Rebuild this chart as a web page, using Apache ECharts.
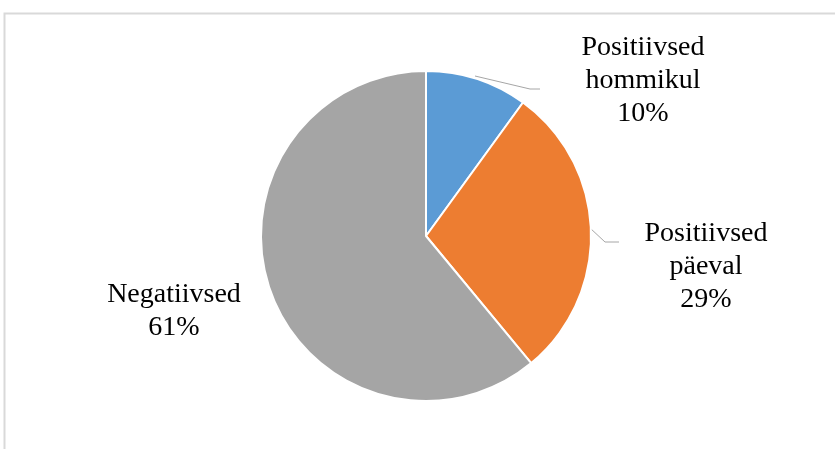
<!DOCTYPE html>
<html>
<head>
<meta charset="utf-8">
<script src="https://cdn.jsdelivr.net/npm/echarts@6/dist/echarts.min.js"></script>
<style>html,body{margin:0;padding:0;background:#fff;}#c{width:835px;height:449px;}</style>
</head>
<body>
<div id="c"></div>
<script>
const categories = ["Positiivsed\nhommikul", "Positiivsed\npäeval", "Negatiivsed"];
const values = [10, 29, 61];
const colors = ["#5b9bd5", "#ed7d31", "#a5a5a5"];

const labelPos = [
  {x: 643, y: 81, line: [[475, 76], [530, 89], [540, 89]]},
  {x: 706, y: 267, line: [[590, 228], [605, 242], [619, 242]]},
  {x: 174, y: 311, line: null}
];

const chart = echarts.init(document.getElementById('c'));
chart.setOption({
  backgroundColor: '#fff',
  animation: false,
  graphic: [{
    type: 'rect',
    shape: {x: 4.5, y: 13.5, width: 900, height: 600},
    style: {fill: 'none', stroke: '#d9d9d9', lineWidth: 2},
    silent: true
  }],
  series: [{
    type: 'pie',
    center: [426, 236],
    radius: 165,
    startAngle: 90,
    clockwise: true,
    data: categories.map((n, i) => ({
      name: n, value: values[i],
      itemStyle: {color: colors[i]},
      labelLine: {show: !!labelPos[i].line}
    })),
    itemStyle: {borderColor: '#fff', borderWidth: 2},
    label: {
      show: true,
      formatter: '{b}\n{c}%',
      fontFamily: '"Liberation Serif", "Times New Roman", serif',
      fontSize: 28,
      lineHeight: 33,
      color: '#000',
      align: 'center'
    },
    labelLine: {show: true, lineStyle: {color: '#a6a6a6', width: 1}},
    labelLayout: function (p) {
      const L = labelPos[p.dataIndex];
      const o = {x: L.x, y: L.y, align: 'center', verticalAlign: 'middle'};
      if (L.line) o.labelLinePoints = L.line;
      return o;
    }
  }]
});
</script>
</body>
</html>
